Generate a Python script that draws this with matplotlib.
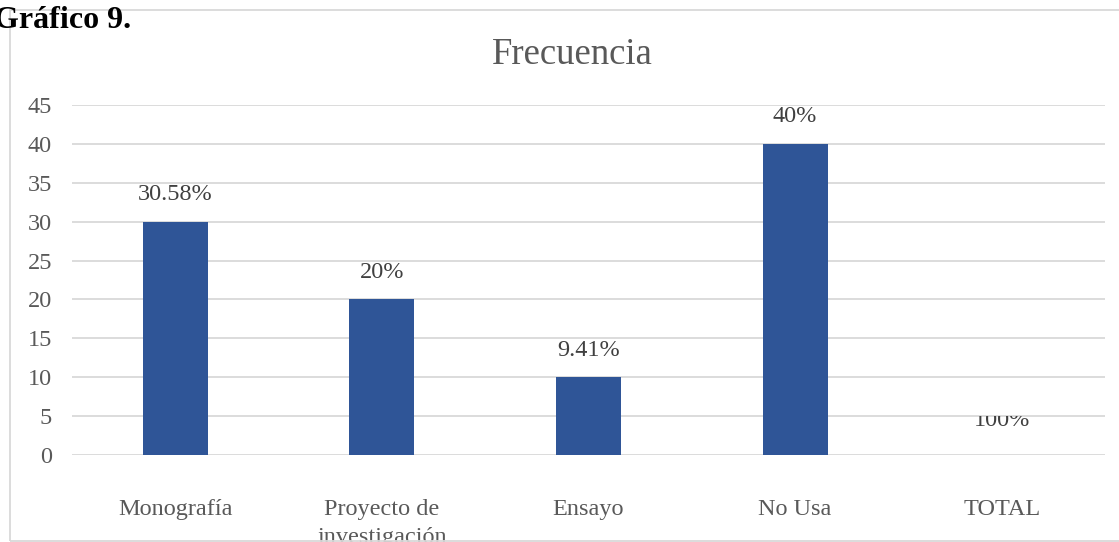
import matplotlib.pyplot as plt
from matplotlib.patches import Rectangle

plt.rcParams['font.family'] = ['Liberation Serif', 'DejaVu Serif']

# frecuencias por tipo de trabajo
categorias = ['Monografía', 'Proyecto de\ninvestigación', 'Ensayo', 'No Usa', 'TOTAL']
frecuencia = [30, 20, 10, 40, 0]
etiquetas = ['30.58%', '20%', '9.41%', '40%', '100%']

W, H = 1119, 542
fig = plt.figure(figsize=(W / 100, H / 100), dpi=100)
px = 72 / 100  # puntos por pixel

# marco del gráfico
fig.patches.append(Rectangle((10 / W, 1.5 / H), 1.2, (H - 11.5) / H,
                             transform=fig.transFigure, fill=False,
                             edgecolor='#D9D9D9', linewidth=1.3))

ax = fig.add_axes([72 / W, (H - 455) / H, (1105 - 72) / W, 350 / H])
x = range(len(categorias))
bars = ax.bar(x, frecuencia, width=0.315, color='#2F5597', zorder=3)

ax.set_ylim(0, 45)
ax.set_xlim(-0.5, len(categorias) - 0.5)
ax.set_yticks(range(0, 46, 5))
ax.yaxis.grid(True, color='#D9D9D9', linewidth=1.3, zorder=0)
for s in ax.spines.values():
    s.set_visible(False)
ax.tick_params(axis='y', length=0, pad=20 * px, labelsize=17.5, labelcolor='#595959')
ax.tick_params(axis='x', length=0, pad=44 * px, labelsize=17.5, labelcolor='#595959')
ax.set_xticks(list(x))
ax.set_xticklabels(categorias, linespacing=1.45)
for t in ax.get_xticklabels():
    t.set_clip_on(False)

for i, (v, lab) in enumerate(zip(frecuencia, etiquetas)):
    dy = 27 if v > 0 else 34
    t = ax.annotate(lab, (i, v), xytext=(0, dy * px), textcoords='offset points',
                    ha='center', va='center', fontsize=17.5, color='#404040')
    if v == 0:
        # la etiqueta de TOTAL queda recortada bajo la línea de 5
        clip = Rectangle((i - 0.5, 0), 1, 5, transform=ax.transData)
        t.set_clip_path(clip)

fig.text(572 / W, 1 - 55 / H, 'Frecuencia', ha='center', va='center',
         fontsize=26.5, color='#595959')
fig.text(-6 / W, 1 - 20 / H, 'Gráfico 9.', ha='left', va='center',
         fontsize=23, fontweight='bold', color='black')

fig.savefig('out.png', dpi=100)
